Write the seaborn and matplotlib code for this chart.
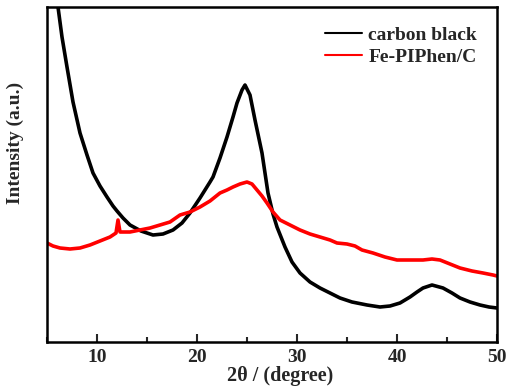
import matplotlib
matplotlib.use("Agg")
import matplotlib.pyplot as plt
import seaborn as sns
import pandas as pd
from matplotlib.ticker import MultipleLocator

sns.set_theme(style="white")
plt.rcParams['font.family'] = ['Liberation Serif', 'DejaVu Serif']
plt.rcParams['font.weight'] = 'bold'

# carbon black
cb_x = [5.5, 5.8, 6.1, 6.5, 7.0, 7.6, 8.3, 9.0, 9.6, 10.3, 11.0, 11.6, 12.0, 12.6, 13.3, 14.4,
        15.6, 16.6, 17.6, 18.5, 19.3, 20.3, 21.3, 21.6, 22.3, 23.0, 23.6, 24.0, 24.5, 24.8,
        25.3, 25.8, 26.5, 27.1, 27.6, 28.0, 28.8, 29.5, 30.3, 31.3, 32.3, 33.3, 34.3, 35.5,
        37.0, 38.3, 39.3, 40.3, 41.3, 42.0, 42.6, 43.5, 44.6, 45.5, 46.3, 47.3, 48.3, 49.2, 50.0]
cb_y = [400, 365, 335, 305, 275, 240, 209, 187, 169, 156, 145, 136, 131, 124, 117, 111,
        107, 108, 112, 119, 129, 144, 160, 165, 184, 205, 225, 239, 252, 257,
        247, 222, 189, 149, 128, 115, 95, 80, 69, 60, 54, 49, 44, 40,
        37, 35, 36, 39, 45, 50, 54, 57, 54, 49, 44, 40, 37, 35, 34]

# Fe-PIPhen/C
fe_x = [5.0, 5.6, 6.3, 7.3, 8.3, 9.3, 10.3, 11.3, 11.9, 12.1, 12.3, 13.3, 14.3, 15.3, 16.3,
        17.3, 18.3, 19.3, 20.3, 21.3, 22.3, 23.0, 23.6, 24.3, 25.0, 25.5, 26.0, 26.5, 27.0,
        27.6, 28.3, 29.3, 30.3, 31.3, 32.3, 33.3, 34.0, 35.0, 35.8, 36.5, 37.6, 38.8, 40.0,
        41.3, 42.6, 43.5, 44.3, 45.3, 46.3, 47.5, 48.6, 49.6, 50.0]
fe_y = [99, 96, 94, 93, 94, 97, 101, 105, 109, 122, 110, 110, 112, 114, 117,
        120, 127, 130, 135, 141, 149, 152, 155, 158, 160, 158, 152, 146, 139,
        130, 122, 117, 112, 108, 105, 102, 99, 98, 96, 92, 89, 85, 82,
        82, 82, 83, 82, 78, 74, 71, 69, 67, 66]

labels = ["carbon black", "Fe-PIPhen/C"]
colors = ["#000000", "#ff0000"]

df = pd.concat([
    pd.DataFrame({"x": cb_x, "y": cb_y, "s": labels[0]}),
    pd.DataFrame({"x": fe_x, "y": fe_y, "s": labels[1]}),
])

fig = plt.figure(figsize=(5.1, 3.86), dpi=100)
ax = fig.add_axes([47/510, 1-342/386, 450/510, 335/386])
sns.lineplot(data=df, x="x", y="y", hue="s", palette=colors, linewidth=2.6,
             sort=False, estimator=None, ax=ax)

ax.set_xlim(5, 50)
ax.set_ylim(0, 335)
ax.xaxis.set_major_locator(MultipleLocator(10))
ax.xaxis.set_minor_locator(MultipleLocator(5))
ax.tick_params(axis='x', which='major', direction='in', length=6, width=1.5,
               labelsize=14, bottom=True, top=False, pad=5)
ax.tick_params(axis='x', which='minor', direction='in', length=3.5, width=1.5,
               bottom=True, top=False)
ax.set_yticks([])
for t in ax.get_xticklabels():
    t.set_fontweight('bold')
for sp in ax.spines.values():
    sp.set_linewidth(1.8)
    sp.set_color('black')

ax.set_xlabel("2θ / (degree)", fontsize=14.5, fontweight='bold', va='top')
ax.xaxis.set_label_coords(0.518, -0.072, transform=ax.transAxes)
ax.set_ylabel("Intensity (a.u.)", fontsize=14, fontweight='bold', va='center', ha='center')
ax.yaxis.set_label_coords(-0.071, 0.595, transform=ax.transAxes)

leg = ax.legend(loc='upper right', frameon=False, handlelength=1.9,
                handletextpad=0.35, labelspacing=0.25, bbox_to_anchor=(0.995, 0.995),
                prop={'weight': 'bold', 'size': 14})
for l in leg.get_lines():
    l.set_linewidth(1.5)

fig.savefig("out.png", dpi=100)
